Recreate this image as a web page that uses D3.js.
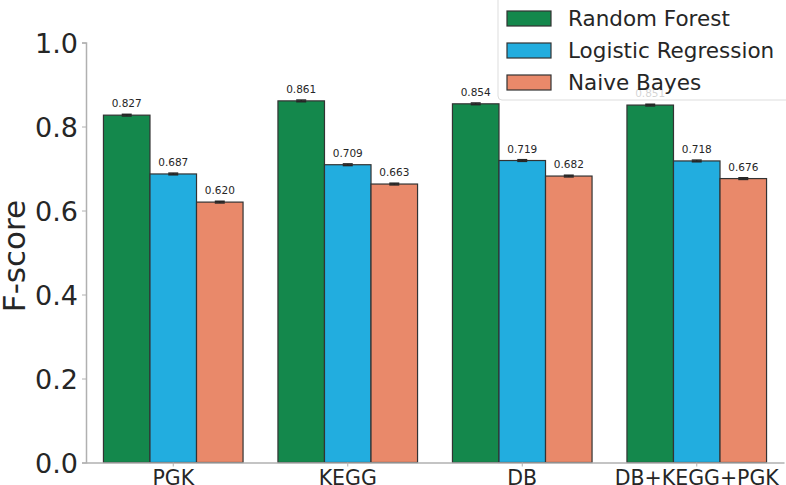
<!DOCTYPE html>
<html><head><meta charset="utf-8">
<script src="https://cdn.jsdelivr.net/npm/d3@7"></script>
<style>body{margin:0;background:#fff}svg{display:block}text{font-family:"DejaVu Sans",sans-serif;fill:#262626}</style>
</head><body><svg id="c" width="786" height="485"></svg>
<script>
const categories = ["PGK","KEGG","DB","DB+KEGG+PGK"];
const seriesNames = ["Random Forest","Logistic Regression","Naive Bayes"];
const rfValues = [0.827,0.861,0.854,0.851];
const lrValues = [0.687,0.709,0.719,0.718];
const nbValues = [0.620,0.663,0.682,0.676];
const rfErr = [0.002,0.002,0.002,0.002];
const lrErr = [0.002,0.002,0.002,0.002];
const nbErr = [0.002,0.002,0.002,0.002];
const yTicks = [0.0,0.2,0.4,0.6,0.8,1.0];
const colors = ["#14884c","#22addf","#e9896a"];

(function(){
const series = [rfValues, lrValues, nbValues];
const errs = [rfErr, lrErr, nbErr];
const svg = d3.select("#c");
const mLeft = 86, mRight = 784, mTop = 42.5, mBottom = 462.5;
const x = d3.scaleBand().domain(categories).range([mLeft,mRight]).paddingInner(0.2).paddingOuter(0.1);
const xs = d3.scaleBand().domain(seriesNames).range([0,x.bandwidth()]);
const y = d3.scaleLinear().domain([0,1]).range([mBottom,mTop]);

series.forEach((vals,si)=>{
  const g = svg.append("g");
  categories.forEach((c,ci)=>{
    const bx = x(c)+xs(seriesNames[si]);
    g.append("rect").attr("x",bx).attr("y",y(vals[ci])).attr("width",xs.bandwidth()).attr("height",y(0)-y(vals[ci]))
      .attr("fill",colors[si]).attr("stroke","#333").attr("stroke-width",1.2);
    const cx = bx+xs.bandwidth()/2;
    const e = errs[si][ci];
    g.append("line").attr("x1",cx).attr("x2",cx).attr("y1",y(vals[ci]+e)).attr("y2",y(vals[ci]-e)).attr("stroke","#262626").attr("stroke-width",1.5);
    [vals[ci]+e, vals[ci]-e].forEach(v=>g.append("line").attr("x1",cx-5).attr("x2",cx+5).attr("y1",y(v)).attr("y2",y(v)).attr("stroke","#262626").attr("stroke-width",1.5));
    g.append("text").attr("x",cx).attr("y",y(vals[ci])-8).attr("text-anchor","middle").attr("font-size",10.5).text(vals[ci].toFixed(3));
  });
});

const yAxis = d3.axisLeft(y).tickValues(yTicks).tickFormat(d3.format(".1f")).tickSize(4).tickPadding(4);
const gy = svg.append("g").attr("transform",`translate(${mLeft},0)`).call(yAxis);
gy.select(".domain").attr("stroke","#b0b0b0").attr("stroke-width",1.5);
gy.selectAll(".tick line").attr("stroke","#b0b0b0");
gy.selectAll(".tick text").attr("font-size",27).attr("fill","#262626").attr("font-family","DejaVu Sans").attr("dy","0.36em");

const xAxis = d3.axisBottom(x).tickSize(4).tickPadding(3).tickSizeOuter(0);
const gx = svg.append("g").attr("transform",`translate(0,${mBottom})`).call(xAxis);
gx.select(".domain").attr("stroke","#b0b0b0").attr("stroke-width",1.5);
gx.selectAll(".tick line").attr("stroke","#b0b0b0");
gx.selectAll(".tick text").attr("font-size",20.5).attr("fill","#262626").attr("font-family","DejaVu Sans").attr("dy","0.75em");

svg.append("text").attr("transform","translate(25,256) rotate(-90)").attr("text-anchor","middle").attr("font-size",31).text("F-score");

const lg = svg.append("g");
lg.append("rect").attr("x",498).attr("y",-6).attr("width",300).attr("height",106).attr("rx",4)
  .attr("fill","#fff").attr("fill-opacity",0.8).attr("stroke","#dddddd");
seriesNames.forEach((n,i)=>{
  const cy = 18 + i*32;
  lg.append("rect").attr("x",507).attr("y",cy-7).attr("width",44).attr("height",15).attr("fill",colors[i]).attr("stroke","#333").attr("stroke-width",1.2);
  lg.append("text").attr("x",568).attr("y",cy).attr("dy","0.36em").attr("font-size",21.5).text(n);
});
})();
</script></body></html>
